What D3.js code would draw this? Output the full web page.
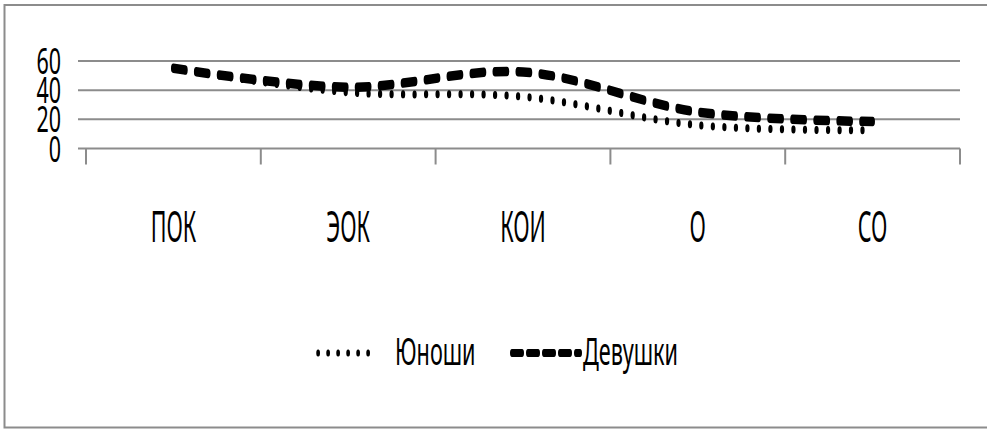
<!DOCTYPE html>
<html>
<head>
<meta charset="utf-8">
<script src="https://cdn.jsdelivr.net/npm/d3@7/dist/d3.min.js"></script>
<style>
  html, body { margin: 0; padding: 0; background: #fff; }
  svg { display: block; }
  text { font-family: "Noto Sans", "DejaVu Sans", sans-serif; fill: #000; }
</style>
</head>
<body>
<svg id="chart" width="987" height="429"></svg>
<script>
// ---- data ----
const categories = ["ПОК", "ЭОК", "КОИ", "О", "СО"];
const seriesNames = ["Юноши", "Девушки"];
const boysValues = [55, 38.5, 35.5, 16, 12.5];
const girlsValues = [55, 42, 52.5, 25, 18.5];
const yTicks = [0, 20, 40, 60];

// ---- layout ----
const W = 987, H = 429;
const plot = { left: 86, right: 960, top: 61, bottom: 148.5 };
const gridColor = "#8c8c8c";
const SX = 0.5; // horizontal squash used for line strokes (elliptic pens)

const svg = d3.select("#chart");

// frame (top, left, bottom; right side cropped)
svg.append("path")
  .attr("d", `M${W},5 L4.5,5 L4.5,427.5 L${W},427.5`)
  .attr("fill", "none").attr("stroke", "#8c8c8c").attr("stroke-width", 2);

const x = d3.scaleBand().domain(categories).range([plot.left, plot.right]).padding(0);
const y = d3.scaleLinear().domain([0, 60]).range([plot.bottom, plot.top]);

// gridlines
svg.append("g").selectAll("line").data(yTicks).join("line")
  .attr("x1", plot.left - 8).attr("x2", plot.right)
  .attr("y1", d => y(d)).attr("y2", d => y(d))
  .attr("stroke", gridColor).attr("stroke-width", 2);

// x-axis tick marks at band boundaries
const bounds = categories.map(c => x(c)).concat([plot.right]);
svg.append("g").selectAll("line").data(bounds).join("line")
  .attr("x1", d => d).attr("x2", d => d)
  .attr("y1", plot.bottom).attr("y2", plot.bottom + 16)
  .attr("stroke", gridColor).attr("stroke-width", 2);

// y tick labels (condensed)
svg.append("g").selectAll("text").data(yTicks).join("text")
  .attr("transform", d => `translate(61,${y(d) + 13}) scale(0.58,1)`)
  .attr("text-anchor", "end")
  .attr("font-size", 37)
  .text(d => d);

// category labels
svg.append("g").selectAll("text").data(categories).join("text")
  .attr("transform", d => `translate(${x(d) + x.bandwidth() / 2},242) scale(0.5,1)`)
  .attr("text-anchor", "middle")
  .attr("font-size", 43)
  .text(d => d);

// lines, drawn in a horizontally squashed group so pens become elliptic
const lineGroup = svg.append("g").attr("transform", `scale(${SX},1)`);
const line = d3.line()
  .x((d, i) => (x(categories[i]) + x.bandwidth() / 2) / SX)
  .y(d => y(d))
  .curve(d3.curveCatmullRom.alpha(0.5));

lineGroup.append("path").datum(boysValues)
  .attr("d", line)
  .attr("fill", "none").attr("stroke", "#000")
  .attr("stroke-width", 8).attr("stroke-linecap", "round")
  .attr("stroke-dasharray", "0.5,22.5");

lineGroup.append("path").datum(girlsValues)
  .attr("d", line)
  .attr("fill", "none").attr("stroke", "#000")
  .attr("stroke-width", 9.5).attr("stroke-linecap", "round")
  .attr("stroke-dasharray", "24,22");

// legend
const legY = 353;
const legend = [
  { name: seriesNames[0], x1: 318, x2: 378, tx: 395, dash: "0.5,19.5", sw: 7 },
  { name: seriesNames[1], x1: 512, x2: 580, tx: 583, dash: "20,12", sw: 8 }
];
const legLines = svg.append("g").attr("transform", `scale(${SX},1)`);
legLines.selectAll("line").data(legend).join("line")
  .attr("x1", d => d.x1 / SX).attr("x2", d => d.x2 / SX)
  .attr("y1", legY).attr("y2", legY)
  .attr("stroke", "#000").attr("stroke-width", d => d.sw)
  .attr("stroke-linecap", "round")
  .attr("stroke-dasharray", d => d.dash);

svg.append("g").selectAll("text").data(legend).join("text")
  .attr("transform", d => `translate(${d.tx},365) scale(0.57,1)`)
  .attr("font-size", 38)
  .text(d => d.name);
</script>
</body>
</html>
